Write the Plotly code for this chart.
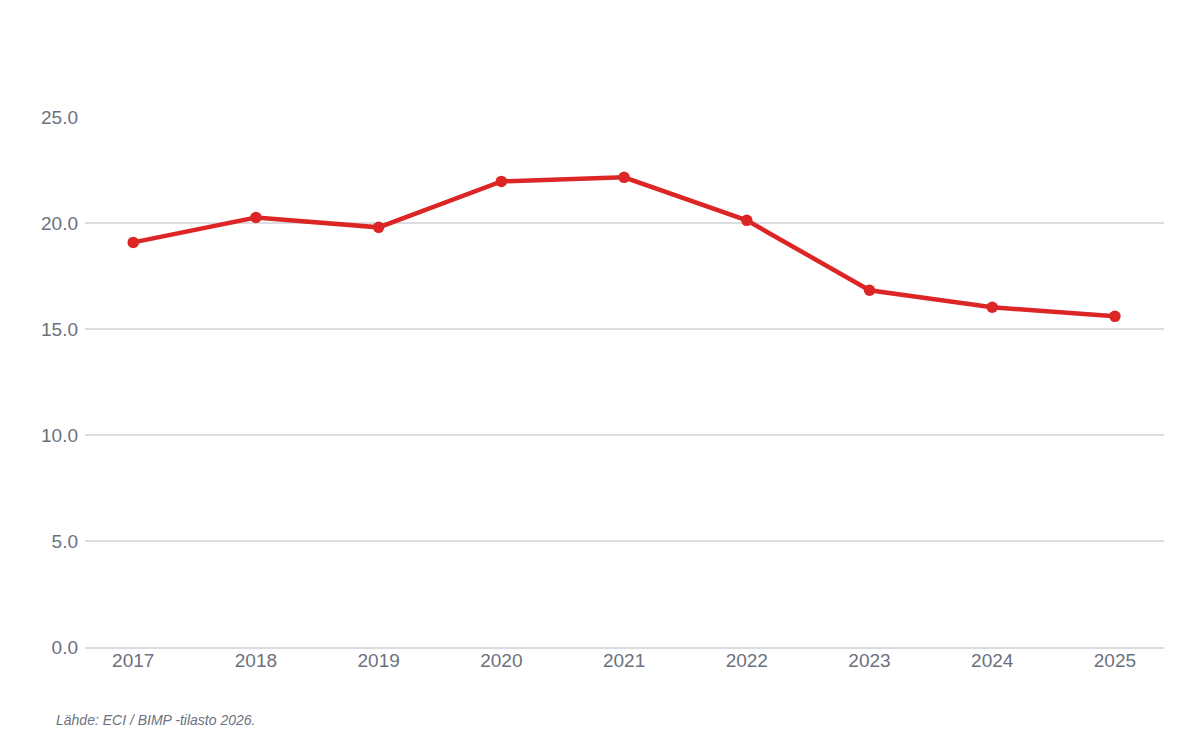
import plotly.graph_objects as go

years = ["2017", "2018", "2019", "2020", "2021", "2022", "2023", "2024", "2025"]
values = [19.1, 20.28, 19.81, 21.98, 22.17, 20.14, 16.84, 16.04, 15.61]
y_ticks = [0, 5, 10, 15, 20, 25]
y_tick_labels = ["0.0", "5.0", "10.0", "15.0", "20.0", "25.0"]
source_text = "Lähde: ECI / BIMP -tilasto 2026."

fig = go.Figure()
fig.add_trace(go.Scatter(
    x=list(range(len(years))),
    y=values,
    mode="lines+markers",
    line=dict(color="#dc2626", width=4.5),
    marker=dict(color="#dc2626", size=11.5),
    hoverinfo="x+y",
))

fig.update_layout(
    width=1200, height=744,
    margin=dict(l=85, r=36, t=117, b=97),
    paper_bgcolor="white",
    plot_bgcolor="white",
    showlegend=False,
    font=dict(family="Liberation Sans, Arial, sans-serif", color="#6b7280", size=19),
    xaxis=dict(
        tickmode="array",
        tickvals=list(range(len(years))),
        ticktext=years,
        range=[-0.393, 8.4],
        showgrid=False,
        zeroline=False,
        showline=True,
        linecolor="#d9dce1",
        linewidth=1.5,
        ticks="",
        ticklabelstandoff=-5,
        tickfont=dict(size=19, color="#6b7280"),
    ),
    yaxis=dict(
        tickmode="array",
        tickvals=y_ticks,
        ticktext=y_tick_labels,
        range=[0, 25.02],
        showgrid=True,
        gridcolor="#dcdde1",
        gridwidth=1.5,
        zeroline=False,
        showline=False,
        ticks="",
        ticklabelstandoff=6,
        tickfont=dict(size=19, color="#6b7280"),
    ),
    annotations=[dict(
        text=source_text,
        xref="paper", yref="paper",
        x=-0.0287, y=-0.138,
        xanchor="left", yanchor="middle",
        showarrow=False,
        font=dict(size=14, color="#6b7280", family="Liberation Sans, Arial, sans-serif", style="italic"),
    )],
)

fig.write_html("out.html", config={"displayModeBar": False},
               post_script="document.body.style.margin='0';")
